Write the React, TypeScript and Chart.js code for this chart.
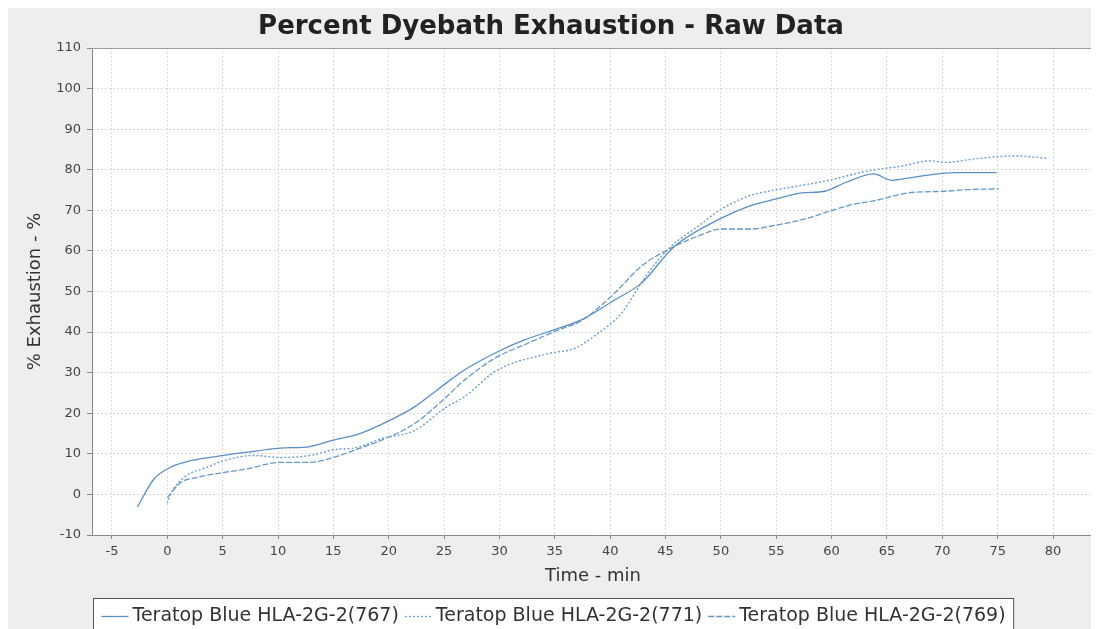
import React, { useEffect, useRef } from "react";
import { Chart, registerables } from "chart.js";

Chart.register(...registerables);

const TITLE = "Percent Dyebath Exhaustion - Raw Data";
const X_TITLE = "Time - min";
const Y_TITLE = "% Exhaustion - %";

const LABEL_767 = "Teratop Blue HLA-2G-2(767)";
const LABEL_771 = "Teratop Blue HLA-2G-2(771)";
const LABEL_769 = "Teratop Blue HLA-2G-2(769)";

const X_767 = [-2.7, -1.2, 0.3, 2.1, 5.1, 7.2, 10.2, 12.9, 15.0, 17.2, 19.3, 22.3, 24.5, 26.8, 29.8, 32.2, 35.3, 37.4, 40.4, 42.8, 45.8, 50.0, 52.5, 55.0, 57.3, 59.4, 61.2, 63.8, 65.4, 67.5, 71.2, 74.9];
const Y_767 = [-3.1, 3.8, 6.7, 8.3, 9.6, 10.4, 11.4, 11.8, 13.4, 14.8, 17.2, 21.5, 26.0, 30.6, 35.1, 38.0, 40.9, 43.0, 47.9, 52.0, 61.1, 68.0, 71.0, 72.8, 74.3, 74.7, 76.8, 79.0, 77.4, 78.2, 79.3, 79.3];

const X_771 = [0.0, 0.2, 1.5, 3.6, 5.1, 7.8, 10.2, 12.9, 15.0, 17.2, 19.3, 22.3, 25.2, 26.8, 29.8, 34.4, 36.8, 38.9, 41.0, 43.4, 45.5, 47.9, 50.0, 52.5, 55.5, 59.4, 63.3, 66.3, 69.0, 70.2, 73.3, 76.6, 79.6];
const Y_771 = [-2.2, -0.5, 4.2, 6.7, 8.3, 9.6, 9.1, 9.6, 11.0, 11.6, 13.7, 15.7, 21.5, 24.0, 30.6, 34.7, 36.0, 39.7, 44.6, 54.5, 61.1, 66.0, 70.2, 73.5, 75.3, 77.2, 79.7, 80.9, 82.2, 81.8, 82.8, 83.4, 82.8];

const X_769 = [0.0, 1.2, 2.7, 5.1, 7.2, 10.2, 12.9, 15.0, 17.2, 19.3, 22.3, 25.2, 26.8, 29.8, 32.2, 35.3, 37.4, 40.4, 42.8, 45.8, 47.9, 50.0, 52.8, 54.3, 57.6, 60.3, 61.8, 63.9, 66.9, 70.2, 72.3, 75.1];
const Y_769 = [-0.8, 2.9, 4.2, 5.4, 6.3, 7.9, 7.9, 9.1, 11.2, 13.3, 17.4, 24.0, 28.1, 33.9, 36.8, 40.5, 42.8, 49.6, 56.2, 61.1, 63.6, 65.4, 65.4, 66.0, 67.9, 70.2, 71.4, 72.4, 74.3, 74.7, 75.1, 75.3];

const X_MIN = -6.8;
const X_MAX = 83.7;
const Y_MIN = -10;
const Y_MAX = 110;

const toPoints = (xs: number[], ys: number[]) => xs.map((x, i) => ({ x, y: ys[i] }));

const FONT = '"DejaVu Sans", sans-serif';

const plotBgPlugin = {
  id: "plotBg",
  beforeDraw(chart: any) {
    const { ctx, chartArea: a } = chart;
    ctx.save();
    ctx.fillStyle = "#ffffff";
    ctx.fillRect(a.left, a.top, a.right - a.left, a.bottom - a.top);
    ctx.restore();
  },
  afterDatasetsDraw(chart: any) {
    const { ctx, chartArea: a } = chart;
    ctx.save();
    ctx.strokeStyle = "#a0a0a0";
    ctx.lineWidth = 1;
    ctx.beginPath();
    ctx.moveTo(a.left, a.top + 0.5);
    ctx.lineTo(a.right - 0.5, a.top + 0.5);
    ctx.lineTo(a.right - 0.5, a.bottom);
    ctx.stroke();
    ctx.restore();
  },
};

const boxLegendPlugin = {
  id: "boxLegend",
  afterDraw(chart: any) {
    const { ctx } = chart;
    const sets = chart.data.datasets;
    ctx.save();
    ctx.font = `19px ${FONT}`;
    ctx.textBaseline = "middle";
    const sample = 27;
    const gap = 4;
    const itemGap = 6;
    const pad = 8;
    const widths = sets.map((d: any) => sample + gap + ctx.measureText(d.label).width);
    const total = widths.reduce((s: number, w: number) => s + w, 0) + itemGap * (sets.length - 1) + pad * 2;
    const left = 85.5;
    const top = 590.5;
    ctx.fillStyle = "#ffffff";
    ctx.fillRect(left, top, total, 40);
    ctx.strokeStyle = "#555555";
    ctx.lineWidth = 1;
    ctx.strokeRect(left, top, total, 40);
    const cy = 608;
    let x = left + pad;
    sets.forEach((d: any, i: number) => {
      ctx.save();
      ctx.strokeStyle = d.borderColor;
      ctx.lineWidth = 1.3;
      ctx.setLineDash(d.borderDash || []);
      ctx.beginPath();
      ctx.moveTo(x, cy + 0.5);
      ctx.lineTo(x + sample, cy + 0.5);
      ctx.stroke();
      ctx.restore();
      ctx.fillStyle = "#333333";
      ctx.fillText(d.label, x + sample + gap, cy);
      x += widths[i] + itemGap;
    });
    ctx.restore();
  },
};

export default function App() {
  const ref = useRef<HTMLCanvasElement>(null);

  useEffect(() => {
    if (!ref.current) return;
    const chart = new Chart(ref.current, {
      type: "line",
      data: {
        datasets: [
          {
            label: LABEL_767,
            data: toPoints(X_767, Y_767),
            borderColor: "#5b8fc6",
            borderWidth: 1.3,
            pointRadius: 0,
            cubicInterpolationMode: "monotone",
            fill: false,
          },
          {
            label: LABEL_771,
            data: toPoints(X_771, Y_771),
            borderColor: "#6c9fd3",
            borderWidth: 1.4,
            borderDash: [2, 2],
            pointRadius: 0,
            cubicInterpolationMode: "monotone",
            fill: false,
          },
          {
            label: LABEL_769,
            data: toPoints(X_769, Y_769),
            borderColor: "#6598cd",
            borderWidth: 1.3,
            borderDash: [6, 2],
            pointRadius: 0,
            cubicInterpolationMode: "monotone",
            fill: false,
          },
        ],
      },
      options: {
        animation: false,
        responsive: true,
        maintainAspectRatio: false,
        layout: { padding: { left: 0, right: 5, top: 0, bottom: 29 } },
        plugins: {
          legend: { display: false },
          tooltip: { enabled: false },
          title: {
            display: true,
            text: TITLE,
            color: "#222222",
            font: { family: FONT, size: 26, weight: "bold" },
            padding: { top: 3.5, bottom: 5.3 },
          },
        },
        scales: {
          x: {
            type: "linear",
            min: X_MIN,
            max: X_MAX,
            afterFit: (s: any) => {
              s.height = 65;
            },
            ticks: {
              stepSize: 5,
              includeBounds: false,
              color: "#444444",
              font: { family: FONT, size: 13 },
              padding: 5,
            },
            grid: {
              color: "#dadada",
              tickColor: "#888888",
              tickLength: 4,
              tickBorderDash: [],
            },
            border: { display: true, color: "#888888", width: 1, dash: [2, 2] },
            title: {
              display: true,
              text: X_TITLE,
              color: "#333333",
              font: { family: FONT, size: 18 },
              padding: { top: 4, bottom: 13.2 },
            },
          },
          y: {
            type: "linear",
            min: Y_MIN,
            max: Y_MAX,
            afterFit: (s: any) => {
              s.width = 84;
            },
            ticks: {
              stepSize: 10,
              color: "#444444",
              font: { family: FONT, size: 13 },
              padding: 6,
            },
            grid: {
              color: "#dadada",
              tickColor: "#888888",
              tickLength: 5,
              tickBorderDash: [],
            },
            border: { display: true, color: "#888888", width: 1, dash: [2, 2] },
            title: {
              display: true,
              text: Y_TITLE,
              color: "#333333",
              font: { family: FONT, size: 18 },
              padding: { top: 16.2, bottom: 4 },
            },
          },
        },
      },
      plugins: [plotBgPlugin, boxLegendPlugin],
    } as any);
    return () => chart.destroy();
  }, []);

  return (
    <div style={{ width: 1091, height: 621, background: "#eeeeee", position: "relative" }}>
      <canvas ref={ref} />
    </div>
  );
}
